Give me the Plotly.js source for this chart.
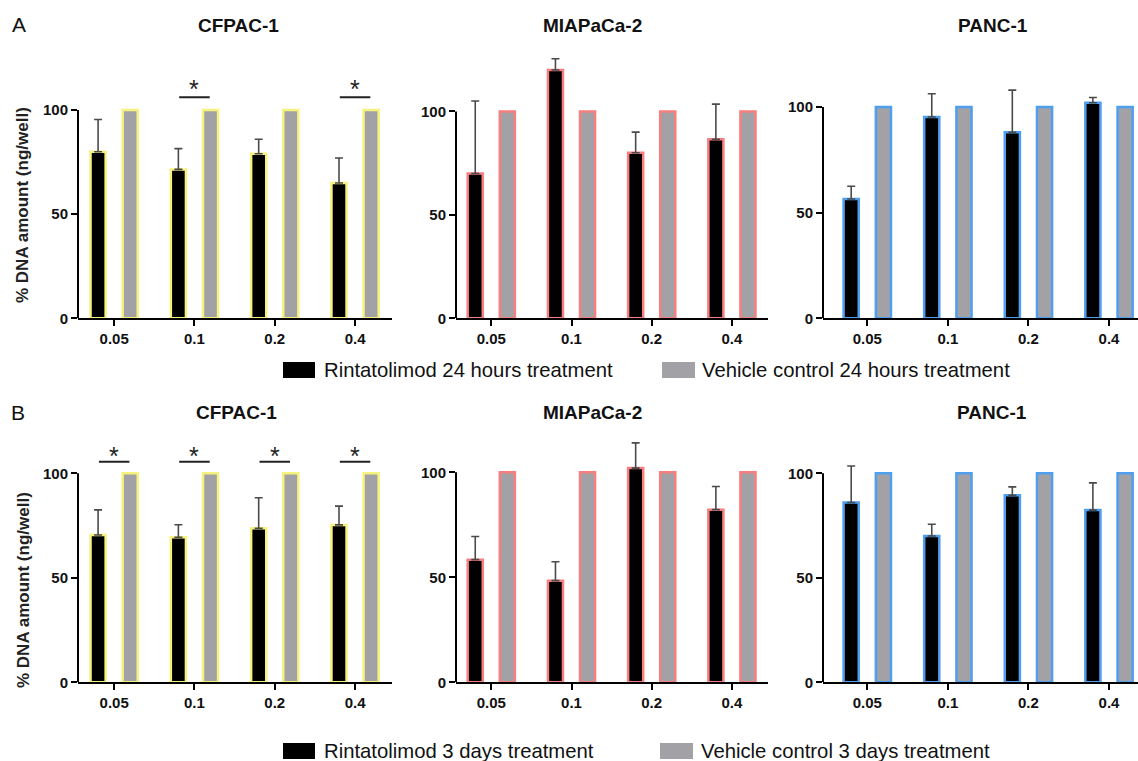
<!DOCTYPE html>
<html>
<head>
<meta charset="utf-8">
<script src="https://cdn.plot.ly/plotly-3.0.1.min.js"></script>
<style>html,body{margin:0;padding:0;background:#fff;}#chart{width:1138px;height:761px;}</style>
</head>
<body>
<div id="chart"></div>
<script>
// ---------- DATA ----------
const doses = ["0.05", "0.1", "0.2", "0.4"];

// A: 24 hours treatment
const cfpac24 = [80, 71.5, 79, 65];
const cfpac24Err = [15.5, 10, 7, 12];
const cfpac24Sig = [false, true, false, true];
const mia24 = [70, 120, 80, 86.5];
const mia24Err = [35, 5.5, 10, 17];
const mia24Sig = [false, false, false, false];
const panc24 = [56.5, 95.3, 88, 102];
const panc24Err = [6, 11, 20, 2.5];
const panc24Sig = [false, false, false, false];
const vehicle24 = [100, 100, 100, 100];

// B: 3 days treatment
const cfpac3d = [70.5, 69.4, 73.7, 75.3];
const cfpac3dErr = [12, 6, 14.6, 9];
const cfpac3dSig = [true, true, true, true];
const mia3d = [58.4, 48.4, 102, 82.2];
const mia3dErr = [11, 9, 12, 11];
const mia3dSig = [false, false, false, false];
const panc3d = [86, 70, 89.5, 82.4];
const panc3dErr = [17.5, 5.6, 4, 13];
const panc3dSig = [false, false, false, false];
const vehicle3d = [100, 100, 100, 100];

const cellLines = ["CFPAC-1", "MIAPaCa-2", "PANC-1"];
const legend24 = ["Rintatolimod 24 hours treatment", "Vehicle control 24 hours treatment"];
const legend3d = ["Rintatolimod 3 days treatment", "Vehicle control 3 days treatment"];
const yTitle = "% DNA amount (ng/well)";
const yTicks = [0, 50, 100];

// ---------- STYLE ----------
const W = 1138, H = 761;
const px = x => x / W;
const py = y => 1 - y / H;
const FONT = "Liberation Sans, Arial, Helvetica, sans-serif";
const BLACK = "#000000";
const GRAY = "#a2a2a6";
const borderColors = ["#f6f27e", "#f77f7f", "#4f9ff0"];

const xDomains = [[px(78), px(392)], [px(456), px(768)], [px(823), px(1138)]];
const xRanges = [[-0.45, 3.46], [-0.44, 3.45], [-0.55, 3.36]];
const yDomTop = [py(318.3), py(58)];
const yDomBot = [py(682.3), py(420)];
const yMaxTop = [125, 125.8, 123.2];
const yMaxBot = [125.5, 124.9, 125.5];

const rows = [
  {series: [[cfpac24, cfpac24Err, cfpac24Sig, vehicle24], [mia24, mia24Err, mia24Sig, vehicle24], [panc24, panc24Err, panc24Sig, vehicle24]],
   dom: yDomTop, ymax: yMaxTop, titleY: 26, sigY: 106.2, starY: 102.3, names: legend24},
  {series: [[cfpac3d, cfpac3dErr, cfpac3dSig, vehicle3d], [mia3d, mia3dErr, mia3dSig, vehicle3d], [panc3d, panc3dErr, panc3dSig, vehicle3d]],
   dom: yDomBot, ymax: yMaxBot, titleY: 412, sigY: 105.5, starY: 100.8, names: legend3d}
];

const traces = [];
const layout = {
  width: W, height: H,
  margin: {l: 0, r: 0, t: 0, b: 0},
  paper_bgcolor: "#ffffff", plot_bgcolor: "#ffffff",
  showlegend: false,
  barmode: "group", bargap: 0.2, bargroupgap: 0.53,
  font: {family: FONT, color: "#000"},
  annotations: [], shapes: []
};

const titleX = [[238, 592, 993], [236, 592, 992]];

rows.forEach((row, r) => {
  row.series.forEach((s, c) => {
    const idx = r * 3 + c + 1;
    const xa = idx === 1 ? "x" : "x" + idx;
    const ya = idx === 1 ? "y" : "y" + idx;
    const xkey = idx === 1 ? "xaxis" : "xaxis" + idx;
    const ykey = idx === 1 ? "yaxis" : "yaxis" + idx;
    const [vals, errs, sig, veh] = s;
    traces.push({
      type: "bar", x: doses, y: vals, xaxis: xa, yaxis: ya, name: row.names[0],
      marker: {color: BLACK, line: {color: borderColors[c], width: 2.5}},
      error_y: {type: "data", symmetric: false, array: errs, arrayminus: errs.map(() => 0),
                color: "#4a4a4a", thickness: 1.6, width: 4}
    });
    traces.push({
      type: "bar", x: doses, y: veh, xaxis: xa, yaxis: ya, name: row.names[1],
      marker: {color: GRAY, line: {color: borderColors[c], width: 2.5}}
    });
    layout[xkey] = {
      domain: xDomains[c], anchor: ya, type: "category", categoryorder: "array", categoryarray: doses,
      range: xRanges[c], showline: true, linecolor: "#000", linewidth: 2,
      ticks: "outside", ticklen: 6, tickwidth: 2, tickcolor: "#000",
      showgrid: false, zeroline: false, fixedrange: true,
      tickfont: {family: FONT, size: 15, color: "#111", weight: "bold"}
    };
    layout[ykey] = {
      domain: row.dom, anchor: xa, range: [0, row.ymax[c]],
      tickvals: yTicks, ticktext: yTicks.map(String),
      showline: false, ticks: "outside", ticklen: 6, tickwidth: 2, tickcolor: "#000",
      showgrid: false, zeroline: false, fixedrange: true,
      tickfont: {family: FONT, size: 15, color: "#111", weight: "bold"}
    };
    // y axis line spanning 0..100 (GraphPad style)
    layout.shapes.push({type: "line", xref: xa + " domain", yref: ya, x0: 0, x1: 0,
      y0: yTicks[0], y1: yTicks[yTicks.length - 1], line: {color: "#000", width: 2}});
    // significance markers
    sig.forEach((isSig, i) => {
      if (!isSig) return;
      layout.shapes.push({type: "line", xref: xa, yref: ya, x0: i - 0.19, x1: i + 0.19,
        y0: row.sigY, y1: row.sigY, line: {color: "#222", width: 2}});
      layout.annotations.push({xref: xa, yref: ya, x: i, y: row.starY, text: "*", showarrow: false,
        yanchor: "bottom", font: {family: FONT, size: 25, color: "#222"}});
    });
    // panel titles
    layout.annotations.push({xref: "paper", yref: "paper", x: px(titleX[r][c]), y: py(row.titleY),
      text: "<b>" + cellLines[c] + "</b>", showarrow: false, xanchor: "center", yanchor: "middle",
      font: {family: FONT, size: 19, color: "#111"}});
  });
});

// y axis titles
[205, 590].forEach(yc => {
  layout.annotations.push({xref: "paper", yref: "paper", x: px(23), y: py(yc), text: "<b>" + yTitle + "</b>",
    textangle: -90, showarrow: false, xanchor: "center", yanchor: "middle",
    font: {family: FONT, size: 17, color: "#222"}});
});

// panel letters
layout.annotations.push({xref: "paper", yref: "paper", x: px(19), y: py(25), text: "A", showarrow: false,
  xanchor: "center", yanchor: "middle", font: {family: FONT, size: 21, color: "#111"}});
layout.annotations.push({xref: "paper", yref: "paper", x: px(18), y: py(412), text: "B", showarrow: false,
  xanchor: "center", yanchor: "middle", font: {family: FONT, size: 21, color: "#111"}});

// legends (drawn as keys + text)
const legendRows = [
  {names: legend24, yc: 370, sq: [[283, 315], [662, 695]], tx: [322, 700]},
  {names: legend3d, yc: 751, sq: [[283, 315], [660, 693]], tx: [322, 699]}
];
legendRows.forEach(lg => {
  [BLACK, GRAY].forEach((col, k) => {
    layout.shapes.push({type: "rect", xref: "paper", yref: "paper",
      x0: px(lg.sq[k][0]), x1: px(lg.sq[k][1]), y0: py(lg.yc + 8), y1: py(lg.yc - 8),
      fillcolor: col, line: {width: 0}});
    layout.annotations.push({xref: "paper", yref: "paper", x: px(lg.tx[k]), y: py(lg.yc),
      text: lg.names[k], showarrow: false, xanchor: "left", yanchor: "middle",
      font: {family: FONT, size: 20.3, color: "#111"}});
  });
});

Plotly.newPlot("chart", traces, layout, {displayModeBar: false, staticPlot: true});
</script>
</body>
</html>
